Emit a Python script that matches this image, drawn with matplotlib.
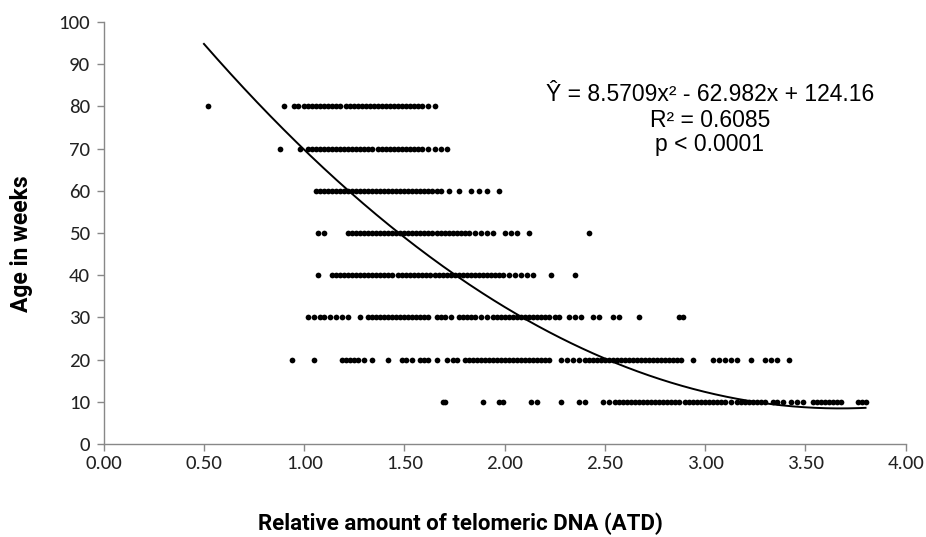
import numpy as np
import matplotlib
matplotlib.use("Agg")
import matplotlib.pyplot as plt
from matplotlib import font_manager

ages = [80, 70, 60, 50, 40, 30, 20, 10]

atd_80 = [0.52, 0.90, 0.95, 0.97, 1.00, 1.02, 1.04, 1.06, 1.08, 1.10, 1.12, 1.14, 1.16, 1.18,
          1.21, 1.23, 1.25, 1.27, 1.29, 1.31, 1.33, 1.35, 1.37, 1.39, 1.41, 1.43, 1.45, 1.47,
          1.49, 1.51, 1.53, 1.55, 1.57, 1.59, 1.62, 1.65]
atd_70 = [0.88, 0.98, 1.02, 1.04, 1.06, 1.08, 1.10, 1.12, 1.14, 1.16, 1.18, 1.20, 1.22, 1.24,
          1.26, 1.28, 1.30, 1.32, 1.34, 1.37, 1.39, 1.41, 1.43, 1.45, 1.47, 1.49, 1.51, 1.53,
          1.55, 1.57, 1.59, 1.62, 1.65, 1.68, 1.71]
atd_60 = [1.06, 1.08, 1.10, 1.12, 1.14, 1.16, 1.18, 1.20, 1.22, 1.24, 1.26, 1.28, 1.30, 1.32,
          1.34, 1.36, 1.38, 1.40, 1.42, 1.44, 1.46, 1.48, 1.50, 1.52, 1.54, 1.56, 1.58, 1.60,
          1.62, 1.64, 1.66, 1.68, 1.72, 1.77, 1.83, 1.87, 1.91, 1.97]
atd_50 = [1.07, 1.10, 1.22, 1.24, 1.26, 1.28, 1.30, 1.32, 1.34, 1.36, 1.38, 1.40, 1.42, 1.44,
          1.46, 1.48, 1.50, 1.52, 1.54, 1.56, 1.58, 1.60, 1.62, 1.64, 1.66, 1.68, 1.70, 1.72,
          1.74, 1.76, 1.78, 1.80, 1.82, 1.85, 1.88, 1.91, 1.94, 2.00, 2.03, 2.06, 2.12, 2.42]
atd_40 = [1.07, 1.14, 1.16, 1.18, 1.20, 1.22, 1.24, 1.26, 1.28, 1.30, 1.32, 1.34, 1.36, 1.38,
          1.40, 1.42, 1.44, 1.47, 1.49, 1.51, 1.53, 1.55, 1.57, 1.59, 1.61, 1.63, 1.65, 1.67,
          1.69, 1.71, 1.73, 1.75, 1.77, 1.79, 1.81, 1.83, 1.85, 1.87, 1.89, 1.91, 1.93, 1.95,
          1.97, 1.99, 2.02, 2.05, 2.08, 2.11, 2.14, 2.23, 2.35]
atd_30 = [1.02, 1.05, 1.08, 1.10, 1.13, 1.16, 1.19, 1.22, 1.28, 1.32, 1.34, 1.36, 1.38, 1.40,
          1.42, 1.44, 1.46, 1.48, 1.50, 1.52, 1.54, 1.56, 1.58, 1.60, 1.62, 1.66, 1.68, 1.70,
          1.73, 1.77, 1.79, 1.81, 1.83, 1.85, 1.88, 1.91, 1.94, 1.96, 1.98, 2.00, 2.02, 2.04,
          2.06, 2.08, 2.10, 2.12, 2.14, 2.16, 2.18, 2.20, 2.22, 2.25, 2.27, 2.32, 2.35, 2.38,
          2.44, 2.47, 2.54, 2.57, 2.67, 2.87, 2.89]
atd_20 = [0.94, 1.05, 1.19, 1.21, 1.23, 1.25, 1.27, 1.30, 1.34, 1.42, 1.49, 1.51, 1.54, 1.58,
          1.60, 1.62, 1.66, 1.71, 1.74, 1.76, 1.80, 1.82, 1.84, 1.86, 1.88, 1.90, 1.92, 1.94,
          1.96, 1.98, 2.00, 2.02, 2.04, 2.06, 2.08, 2.10, 2.12, 2.14, 2.16, 2.18, 2.20, 2.22,
          2.28, 2.31, 2.34, 2.37, 2.40, 2.42, 2.44, 2.46, 2.48, 2.50, 2.52, 2.54, 2.56, 2.58,
          2.60, 2.62, 2.64, 2.66, 2.68, 2.70, 2.72, 2.74, 2.76, 2.78, 2.80, 2.82, 2.84, 2.86,
          2.88, 2.94, 3.04, 3.07, 3.10, 3.13, 3.16, 3.23, 3.30, 3.33, 3.36, 3.42]
atd_10 = [1.69, 1.70, 1.89, 1.97, 1.99, 2.13, 2.16, 2.28, 2.37, 2.40, 2.49, 2.52, 2.55, 2.57,
          2.59, 2.61, 2.63, 2.65, 2.67, 2.69, 2.71, 2.73, 2.75, 2.77, 2.79, 2.81, 2.83, 2.85,
          2.87, 2.90, 2.92, 2.94, 2.96, 2.98, 3.00, 3.02, 3.04, 3.06, 3.08, 3.10, 3.13, 3.16,
          3.18, 3.20, 3.22, 3.24, 3.26, 3.28, 3.30, 3.34, 3.36, 3.39, 3.43, 3.46, 3.49, 3.54,
          3.56, 3.58, 3.60, 3.62, 3.64, 3.66, 3.68, 3.76, 3.78, 3.80]

rows = [atd_80, atd_70, atd_60, atd_50, atd_40, atd_30, atd_20, atd_10]

# Trendline coefficients (shown on chart)
coef_a, coef_b, coef_c = 8.5709, -62.982, 124.16
fit_range = [0.5, 3.8]

x_ticks = [0, 0.5, 1.0, 1.5, 2.0, 2.5, 3.0, 3.5, 4.0]
y_ticks = [0, 10, 20, 30, 40, 50, 60, 70, 80, 90, 100]

eq_lines = ["Ŷ = 8.5709x² - 62.982x + 124.16", "R² = 0.6085", "p < 0.0001"]

available = {f.name for f in font_manager.fontManager.ttflist}
def pick(*names):
    for n in names:
        if n in available:
            return n
    return "DejaVu Sans"

tick_font = pick("Carlito", "Lato", "Open Sans")
title_font = pick("Liberation Sans Narrow", "Roboto", "Liberation Sans")
eq_font = pick("Liberation Sans", "Arimo", "DejaVu Sans")

fig = plt.figure(figsize=(9.26, 5.37), dpi=100)
ax = fig.add_axes([0.112, 0.173, 0.866, 0.786])

for age, xs in zip(ages, rows):
    ax.scatter(xs, [age] * len(xs), s=17, color="black", linewidths=0, zorder=3)

xf = np.linspace(fit_range[0], fit_range[1], 300)
yf = coef_a * xf**2 + coef_b * xf + coef_c
ax.plot(xf, yf, color="black", lw=1.4, zorder=4)

ax.set_xlim(0, 4)
ax.set_ylim(0, 100)
ax.set_xticks(x_ticks)
ax.set_xticklabels([f"{v:.2f}" for v in x_ticks])
ax.set_yticks(y_ticks)
ax.set_yticklabels([str(v) for v in y_ticks])

for s in ["top", "right"]:
    ax.spines[s].set_visible(False)
for s in ["left", "bottom"]:
    ax.spines[s].set_color("#888888")
    ax.spines[s].set_linewidth(1.0)
ax.tick_params(axis="both", direction="out", length=5, color="#888888", width=1.0,
               labelsize=15, labelcolor="#222222", pad=5)
ax.tick_params(axis="x", pad=3)
for lab in ax.get_xticklabels() + ax.get_yticklabels():
    lab.set_fontfamily(tick_font)

ax.set_xlabel("Relative amount of telomeric DNA (ATD)", fontsize=16, fontweight="bold",
              fontfamily=title_font, va="center")
ax.xaxis.set_label_coords(0.445, -0.188)
ax.set_ylabel("Age in weeks", fontsize=16.5, fontweight="bold", fontfamily=title_font,
              va="center")
ax.yaxis.set_label_coords(-0.103, 0.476)

eq_y = [0.828, 0.766, 0.709]
for line, yy in zip(eq_lines, eq_y):
    ax.text(0.756, yy, line, transform=ax.transAxes, ha="center", va="center",
            fontsize=16.5, fontfamily=eq_font, color="black")

fig.savefig("out.png", dpi=100)
